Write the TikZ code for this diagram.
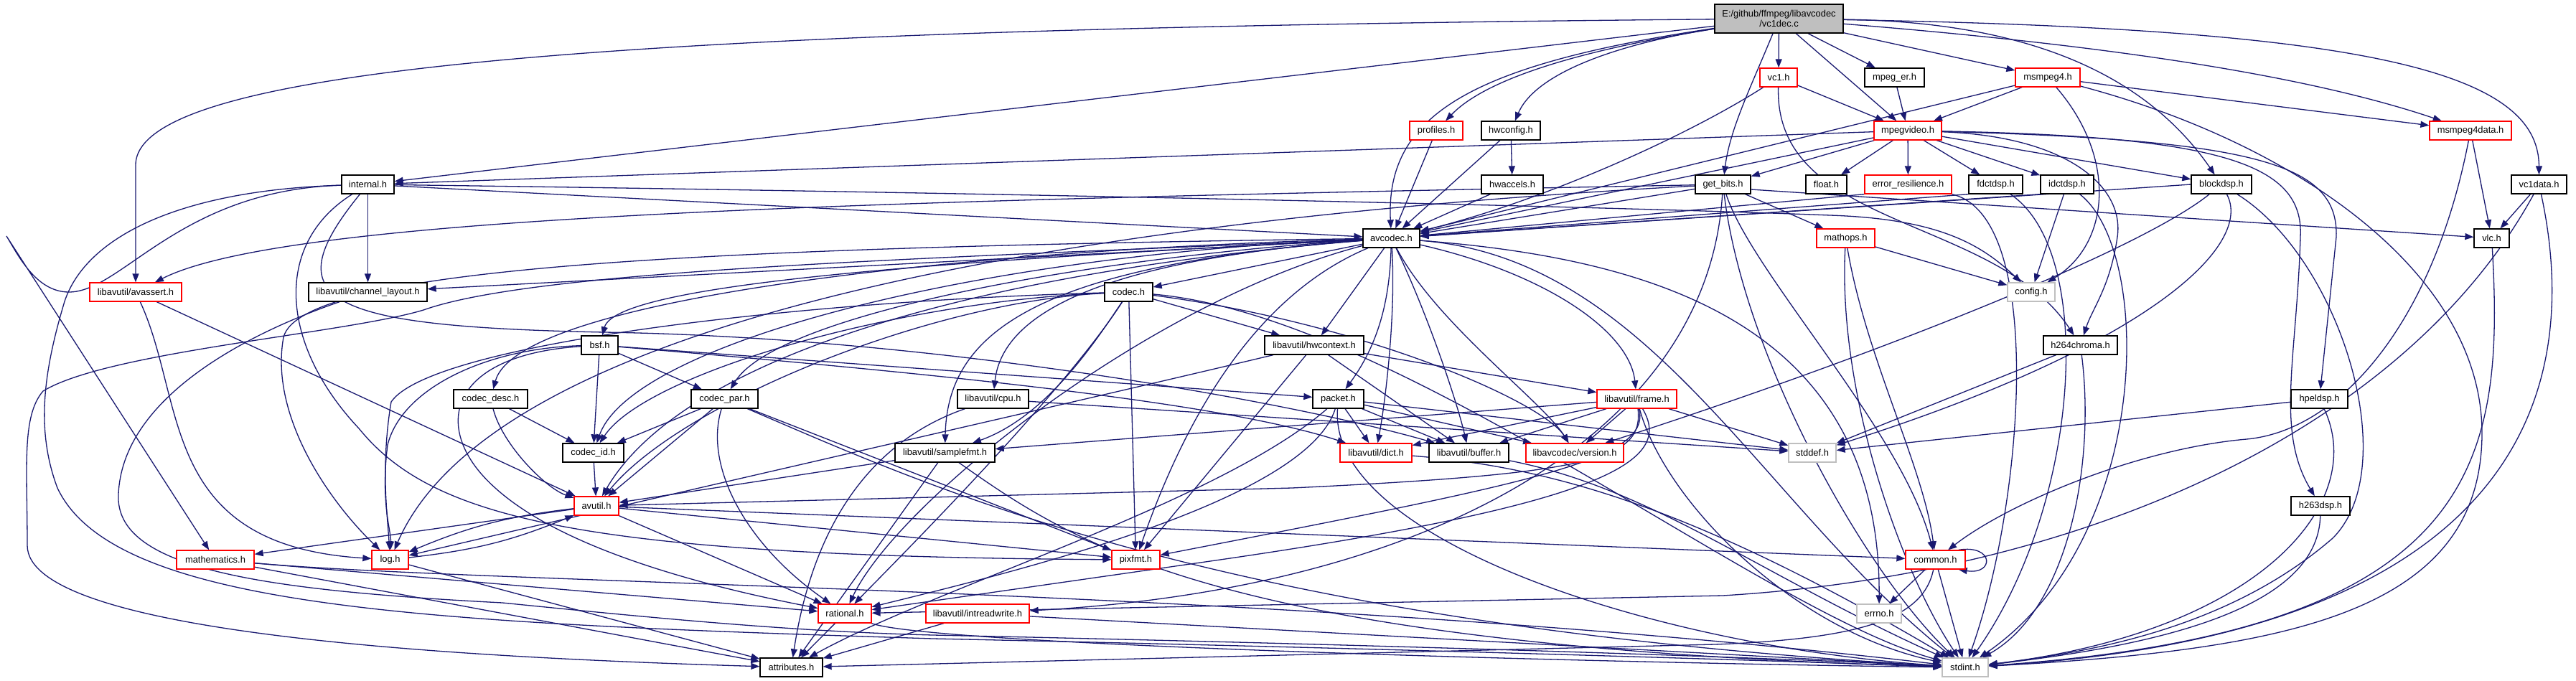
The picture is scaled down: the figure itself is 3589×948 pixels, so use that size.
\documentclass[tikz,border=0pt]{standalone}
\usepackage{fontspec}
\setmainfont{Liberation Sans}
\usetikzlibrary{arrows.meta}
\definecolor{edgecol}{HTML}{191970}
\definecolor{mainfill}{HTML}{BFBFBF}
\definecolor{redb}{HTML}{FF0000}
\definecolor{grayb}{HTML}{BFBFBF}
\pgfdeclarelayer{bg}
\pgfdeclarelayer{edges}
\pgfsetlayers{bg,edges,main}
\tikzset{
  nd/.style={rectangle, line width=1.3pt, fill=white, minimum height=26pt, inner sep=0pt, font=\fontsize{12.9}{14}\selectfont},
  bk/.style={nd, draw=black},
  rd/.style={nd, draw=redb},
  gy/.style={nd, draw=grayb},
  edg/.style={draw=edgecol, line width=1.3pt, -{Triangle[length=12pt,width=9pt]}},
}
\begin{document}
\begin{tikzpicture}[x=1pt,y=-1pt]
\useasboundingbox (0,0) rectangle (3589,948);
\begin{pgfonlayer}{bg}
\fill[white] (0,0) rectangle (3589,948);
\end{pgfonlayer}
% nodes
\node[bk, fill=mainfill, minimum width=179pt, minimum height=40pt, align=center] (vcmain) at (2478.5,26) {E:/github/ffmpeg/libavcodec\\/vc1dec.c};
\node[rd, minimum width=52pt] (vc1) at (2478,108) {vc1.h};
\node[bk, minimum width=83pt] (mpeger) at (2639.5,108) {mpeg\_er.h};
\node[rd, minimum width=90pt] (msmpeg4) at (2853,108) {msmpeg4.h};
\node[rd, minimum width=74pt] (profiles) at (2001,182) {profiles.h};
\node[bk, minimum width=82pt] (hwconfig) at (2105,182) {hwconfig.h};
\node[rd, minimum width=94pt] (mpegvideo) at (2658,182) {mpegvideo.h};
\node[rd, minimum width=114pt] (msmpeg4data) at (3442,182) {msmpeg4data.h};
\node[bk, minimum width=73pt] (internal) at (512.5,257) {internal.h};
\node[bk, minimum width=86pt] (hwaccels) at (2107,257) {hwaccels.h};
\node[bk, minimum width=77pt] (getbits) at (2400.5,257) {get\_bits.h};
\node[bk, minimum width=57pt] (floath) at (2544.5,257) {float.h};
\node[rd, minimum width=121pt] (errres) at (2658.5,257) {error\_resilience.h};
\node[bk, minimum width=75pt] (fdctdsp) at (2780.5,257) {fdctdsp.h};
\node[bk, minimum width=74pt] (idctdsp) at (2880,257) {idctdsp.h};
\node[bk, minimum width=84pt] (blockdsp) at (3095,257) {blockdsp.h};
\node[bk, minimum width=77pt] (vc1data) at (3537.5,257) {vc1data.h};
\node[bk, minimum width=79pt] (avcodec) at (1938.5,332) {avcodec.h};
\node[rd, minimum width=81pt] (mathops) at (2571.5,332) {mathops.h};
\node[bk, minimum width=49pt] (vlc) at (3471.5,332) {vlc.h};
\node[rd, minimum width=128pt] (avassert) at (189,407) {libavutil/avassert.h};
\node[bk, minimum width=165pt] (chlayout) at (512.5,407) {libavutil/channel\_layout.h};
\node[bk, minimum width=67pt] (codec) at (1572.5,407) {codec.h};
\node[gy, minimum width=66pt] (config) at (2830,407) {config.h};
\node[bk, minimum width=51pt] (bsf) at (835.5,481) {bsf.h};
\node[bk, minimum width=138pt] (hwcontext) at (1831,481) {libavutil/hwcontext.h};
\node[bk, minimum width=103pt] (hchroma) at (2898.5,481) {h264chroma.h};
\node[bk, minimum width=103pt] (codecdesc) at (683.5,556) {codec\_desc.h};
\node[bk, minimum width=93pt] (codecpar) at (1009.5,556) {codec\_par.h};
\node[bk, minimum width=99pt] (cpu) at (1383.5,556) {libavutil/cpu.h};
\node[bk, minimum width=71pt] (packet) at (1864.5,556) {packet.h};
\node[rd, minimum width=111pt] (frame) at (2280.5,556) {libavutil/frame.h};
\node[bk, minimum width=79pt] (hpeldsp) at (3231.5,556) {hpeldsp.h};
\node[bk, minimum width=85pt] (codecid) at (826.5,631) {codec\_id.h};
\node[bk, minimum width=139pt] (samplefmt) at (1316.5,631) {libavutil/samplefmt.h};
\node[rd, minimum width=100pt] (dict) at (1917,631) {libavutil/dict.h};
\node[bk, minimum width=111pt] (buffer) at (2046.5,631) {libavutil/buffer.h};
\node[rd, minimum width=136pt] (versionh) at (2194,631) {libavcodec/version.h};
\node[gy, minimum width=66pt] (stddef) at (2525,631) {stddef.h};
\node[rd, minimum width=62pt] (avutil) at (831,705) {avutil.h};
\node[bk, minimum width=82pt] (hdsp) at (3233,705) {h263dsp.h};
\node[rd, minimum width=108pt] (mathematics) at (300,780) {mathematics.h};
\node[rd, minimum width=51pt] (logh) at (543.5,780) {log.h};
\node[rd, minimum width=67pt] (pixfmt) at (1582.5,780) {pixfmt.h};
\node[rd, minimum width=83pt] (common) at (2696.5,780) {common.h};
\node[rd, minimum width=74pt] (rational) at (1177,855) {rational.h};
\node[rd, minimum width=144pt] (intrw) at (1362,855) {libavutil/intreadwrite.h};
\node[gy, minimum width=62pt] (errnoh) at (2618,855) {errno.h};
\node[bk, minimum width=87pt] (attributes) at (1102.5,930) {attributes.h};
\node[gy, minimum width=64pt] (stdint) at (2738,930) {stdint.h};

\begin{pgfonlayer}{edges}
% main file
\draw[edg] (vcmain) .. controls (900,40) and (189,90) .. (189,230) -- (avassert);
\draw[edg] (vcmain) -- (internal);
\draw[edg] (vcmain) .. controls (2050,90) and (1930,160) .. (avcodec);
\draw[edg] (vcmain) .. controls (2200,70) and (2070,110) .. (profiles);
\draw[edg] (vcmain) .. controls (2260,60) and (2140,100) .. (hwconfig);
\draw[edg] (vcmain) -- (vc1);
\draw[edg] (vcmain) .. controls (2440,120) and (2410,180) .. (getbits);
\draw[edg] (vcmain) -- (mpegvideo);
\draw[edg] (vcmain) -- (mpeger);
\draw[edg] (vcmain) -- (msmpeg4);
\draw[edg] (vcmain) .. controls (2800,30) and (2980,90) .. (blockdsp);
\draw[edg] (vcmain) .. controls (2900,60) and (3200,100) .. (msmpeg4data);
\draw[edg] (vcmain) .. controls (3300,40) and (3537,100) .. (vc1data);
% vc1.h
\draw[edg] (vc1) .. controls (2350,190) and (2150,280) .. (avcodec);
\draw[edg] (vc1) -- (mpegvideo);
\draw[edg] (vc1) .. controls (2472,320) and (2780,300) .. (hchroma);
% mpeg_er.h, msmpeg4.h
\draw[edg] (mpeger) -- (mpegvideo);
\draw[edg] (msmpeg4) -- (mpegvideo);
\draw[edg] (msmpeg4) -- (avcodec);
\draw[edg] (msmpeg4) .. controls (2950,220) and (2940,340) .. (config);
\draw[edg] (msmpeg4) -- (msmpeg4data);
\draw[edg] (msmpeg4) .. controls (3200,200) and (3455,380) .. (3458,600) .. controls (3460,850) and (3200,905) .. (stdint);
% profiles, hwconfig, hwaccels
\draw[edg] (profiles) -- (avcodec);
\draw[edg] (hwconfig) -- (hwaccels);
\draw[edg] (hwconfig) -- (avcodec);
\draw[edg] (hwaccels) -- (avcodec);
% mpegvideo.h
\draw[edg] (mpegvideo) -- (internal);
\draw[edg] (mpegvideo) -- (avcodec);
\draw[edg] (mpegvideo) -- (getbits);
\draw[edg] (mpegvideo) -- (floath);
\draw[edg] (mpegvideo) -- (errres);
\draw[edg] (mpegvideo) -- (fdctdsp);
\draw[edg] (mpegvideo) -- (idctdsp);
\draw[edg] (mpegvideo) -- (blockdsp);
\draw[edg] (mpegvideo) .. controls (2880,190) and (2960,260) .. (2950,330) .. controls (2940,400) and (2915,430) .. (hchroma);
\draw[edg] (mpegvideo) .. controls (3150,195) and (3258,230) .. (3255,330) -- (hpeldsp);
\draw[edg] (mpegvideo) .. controls (3100,190) and (3210,230) .. (3205,330) .. controls (3200,500) and (3170,600) .. (hdsp);
% msmpeg4data.h
\draw[edg] (msmpeg4data) -- (vlc);
\draw[edg] (msmpeg4data) .. controls (3390,450) and (3260,600) .. (3130,612) .. controls (2980,625) and (2800,700) .. (common);
% internal.h
\draw[edg] (internal) -- (chlayout);
\draw[edg] (internal) -- (avcodec);
\draw[edg] (internal) .. controls (1500,270) and (2300,290) .. (2550,300) .. controls (2700,305) and (2760,340) .. (config);
\draw[edg] (internal) .. controls (250,265) and (170,407) .. (96,407) .. controls (50,407) and (25,355) .. (9,329) -- (mathematics);
\draw[edg] (internal) .. controls (250,265) and (120,330) .. (90,420) .. controls (60,520) and (50,600) .. (80,680) .. controls (160,850) and (600,868) .. (1300,890) .. controls (2000,905) and (2500,922) .. (stdint);
\draw[edg] (internal) .. controls (380,420) and (450,455) .. (842,463) .. controls (1300,470) and (1800,560) .. (buffer);
\draw[edg] (internal) .. controls (380,340) and (390,480) .. (500,597) .. controls (600,720) and (800,775) .. (pixfmt);
% avcodec.h
\draw[edg] (avcodec) -- (codec);
\draw[edg] (avcodec) .. controls (1400,360) and (860,390) .. (bsf);
\draw[edg] (avcodec) .. controls (1300,350) and (720,420) .. (codecdesc);
\draw[edg] (avcodec) .. controls (1500,360) and (1080,440) .. (codecpar);
\draw[edg] (avcodec) .. controls (1350,355) and (880,480) .. (codecid);
\draw[edg] (avcodec) .. controls (1936,420) and (1920,480) .. (packet);
\draw[edg] (avcodec) .. controls (2000,450) and (2150,560) .. (versionh);
\draw[edg] (avcodec) -- (hwcontext);
\draw[edg] (avcodec) .. controls (2150,380) and (2270,460) .. (frame);
\draw[edg] (avcodec) .. controls (1990,440) and (2030,560) .. (buffer);
\draw[edg] (avcodec) .. controls (1945,440) and (1930,560) .. (dict);
\draw[edg] (avcodec) .. controls (1500,365) and (1395,450) .. (cpu);
\draw[edg] (avcodec) .. controls (1450,370) and (1320,460) .. (samplefmt);
\draw[edg] (avcodec) .. controls (1800,390) and (1680,500) .. (pixfmt);
\draw[edg] (avcodec) .. controls (1600,420) and (1250,700) .. (rational);
\draw[edg] (avcodec) .. controls (1000,345) and (420,370) .. (395,470) .. controls (375,580) and (460,700) .. (logh);
\draw[edg] (avcodec) .. controls (1350,380) and (950,500) .. (avutil);
\draw[edg] (avcodec) .. controls (1300,360) and (750,375) .. (590,432) .. controls (480,465) and (150,490) .. (60,545) .. controls (30,580) and (38,650) .. (38,760) .. controls (38,880) and (600,915) .. (attributes);
\draw[edg] (avcodec) -- (chlayout);
\draw[edg] (avcodec) .. controls (2300,360) and (2620,450) .. (errnoh);
\draw[edg] (avcodec) .. controls (2300,360) and (2450,700) .. (stdint);
% codec.h
\draw[edg] (codec) .. controls (1950,440) and (2450,850) .. (stdint);
\draw[edg] (codec) .. controls (1300,420) and (950,560) .. (avutil);
\draw[edg] (codec) -- (hwcontext);
\draw[edg] (codec) .. controls (1100,420) and (600,480) .. (545,560) .. controls (530,650) and (540,720) .. (logh);
\draw[edg] (codec) -- (pixfmt);
\draw[edg] (codec) .. controls (1480,550) and (1250,780) .. (rational);
\draw[edg] (codec) .. controls (1530,470) and (1460,580) .. (samplefmt);
\draw[edg] (codec) .. controls (1250,420) and (900,520) .. (codecid);
\draw[edg] (codec) .. controls (1900,450) and (2150,560) .. (versionh);
% bsf.h
\draw[edg] (bsf) .. controls (1300,520) and (1700,560) .. (dict);
\draw[edg] (bsf) .. controls (680,485) and (560,540) .. (540,620) .. controls (530,700) and (545,740) .. (logh);
\draw[edg] (bsf) .. controls (620,495) and (600,600) .. (690,680) .. controls (800,780) and (1050,830) .. (rational);
\draw[edg] (bsf) -- (codecid);
\draw[edg] (bsf) -- (codecpar);
\draw[edg] (bsf) -- (packet);
% codec_desc.h, codec_par.h, codec_id.h
\draw[edg] (codecdesc) .. controls (700,620) and (760,680) .. (avutil);
\draw[edg] (codecdesc) -- (codecid);
\draw[edg] (codecpar) -- (codecid);
\draw[edg] (codecpar) -- (avutil);
\draw[edg] (codecpar) .. controls (980,650) and (1040,760) .. (rational);
\draw[edg] (codecpar) -- (pixfmt);
\draw[edg] (codecpar) .. controls (1300,680) and (1700,870) .. (stdint);
\draw[edg] (codecid) -- (avutil);
% packet.h
\draw[edg] (packet) -- (stddef);
\draw[edg] (packet) .. controls (1850,750) and (2300,900) .. (stdint);
\draw[edg] (packet) .. controls (1700,700) and (1300,820) .. (attributes);
\draw[edg] (packet) -- (buffer);
\draw[edg] (packet) -- (dict);
\draw[edg] (packet) .. controls (1820,700) and (1400,800) .. (rational);
\draw[edg] (packet) -- (versionh);
% hwcontext.h
\draw[edg] (hwcontext) -- (buffer);
\draw[edg] (hwcontext) -- (frame);
\draw[edg] (hwcontext) .. controls (1500,560) and (1100,650) .. (logh);
\draw[edg] (hwcontext) -- (pixfmt);
% frame.h
\draw[edg] (frame) -- (stddef);
\draw[edg] (frame) .. controls (2320,700) and (2500,880) .. (stdint);
\draw[edg] (frame) .. controls (2290,640) and (2220,660) .. (1800,680) -- (avutil);
\draw[edg] (frame) -- (buffer);
\draw[edg] (frame) -- (dict);
\draw[edg] (frame) .. controls (2330,640) and (2250,700) .. (1700,780) -- (rational);
\draw[edg] (frame) .. controls (2300,640) and (2150,670) .. (pixfmt);
\draw[edg] (frame) -- (samplefmt);
\draw[edg] (frame) -- (versionh);
% cpu.h, samplefmt.h, dict.h, buffer.h
\draw[edg] (cpu) -- (stddef);
\draw[edg] (cpu) .. controls (1200,620) and (1130,750) .. (attributes);
\draw[edg] (samplefmt) -- (avutil);
\draw[edg] (samplefmt) -- (attributes);
\draw[edg] (samplefmt) .. controls (1500,760) and (1700,900) .. (stdint);
\draw[edg] (dict) .. controls (2150,650) and (2350,700) .. (stdint);
\draw[edg] (buffer) .. controls (2300,680) and (2450,800) .. (stdint);
% avutil.h, log.h
\draw[edg] (avutil) -- (mathematics);
\draw[edg] (avutil) to[bend right=8] (logh);
\draw[edg] (logh) to[bend right=8] (avutil);
\draw[edg] (avutil) -- (rational);
\draw[edg] (avutil) -- (pixfmt);
\draw[edg] (avutil) -- (common);
\draw[edg] (logh) -- (attributes);
% mathematics.h, rational.h, intreadwrite.h
\draw[edg] (mathematics) -- (rational);
\draw[edg] (mathematics) -- (attributes);
\draw[edg] (mathematics) .. controls (700,815) and (1800,820) .. (stdint);
\draw[edg] (rational) -- (attributes);
\draw[edg] (rational) .. controls (1300,900) and (2300,925) .. (stdint);
\draw[edg] (intrw) -- (attributes);
\draw[edg] (intrw) -- (stdint);
% common.h
\draw[edg] (common) -- (errnoh);
\draw[edg] (common) -- (stdint);
\draw[edg] (common) .. controls (2680,860) and (2600,890) .. (2389,898) -- (attributes);
\draw[edg] ([xshift=-10pt]common.north east) .. controls +(50,-8) and +(50,8) .. ([xshift=-10pt]common.south east);
% avassert.h, channel_layout.h
\draw[edg] (avassert) -- (avutil);
\draw[edg] (avassert) .. controls (260,560) and (220,760) .. (logh);
\draw[edg] (chlayout) .. controls (330,470) and (170,560) .. (165,689) .. controls (160,790) and (350,822) .. (700,840) .. controls (900,860) and (1100,880) .. (1300,885) .. controls (2000,900) and (2500,918) .. (stdint);
% get_bits.h
\draw[edg] (getbits) .. controls (1200,280) and (400,300) .. (avassert);
\draw[edg] (getbits) -- (avcodec);
\draw[edg] (getbits) .. controls (1600,300) and (700,420) .. (logh);
\draw[edg] (getbits) -- (mathops);
\draw[edg] ([yshift=-7pt]getbits.east) -- (vlc);
\draw[edg] (getbits) .. controls (2430,500) and (2600,800) .. (stdint);
\draw[edg] (getbits) .. controls (2440,380) and (2650,600) .. (common);
\draw[edg] (getbits) .. controls (2380,600) and (2000,820) .. (intrw);
% mathops.h, vlc.h, vc1data.h
\draw[edg] (mathops) -- (config);
\draw[edg] (mathops) .. controls (2600,500) and (2680,650) .. (common);
\draw[edg] (mathops) .. controls (2560,550) and (2650,800) .. (stdint);
\draw[edg] (vlc) .. controls (3490,650) and (3450,880) .. (stdint);
\draw[edg] (vc1data) -- (vlc);
\draw[edg] (vc1data) .. controls (3590,500) and (3560,880) .. (stdint);
\draw[edg] (vc1data) .. controls (3350,600) and (2900,800) .. (2400,830) -- (rational);
% blockdsp.h
\draw[edg] (blockdsp.west) -- (avcodec);
\draw[edg] (blockdsp) .. controls (3140,340) and (3000,480) .. (stddef);
\draw[edg] (blockdsp) .. controls (2980,350) and (2600,500) .. (versionh);
\draw[edg] (blockdsp) .. controls (3260,360) and (3350,650) .. (3250,750) .. controls (3100,880) and (2900,910) .. (stdint);
% error_resilience.h, fdctdsp.h, idctdsp.h
\draw[edg] (errres.south west) -- (avcodec);
\draw[edg] (errres) .. controls (2850,300) and (2820,700) .. (stdint);
\draw[edg] (fdctdsp.south west) -- (avcodec);
\draw[edg] (fdctdsp) .. controls (2920,350) and (2900,700) .. (stdint);
\draw[edg] (idctdsp.south west) -- (avcodec);
\draw[edg] (idctdsp) -- (config);
\draw[edg] (idctdsp) .. controls (3000,350) and (3000,750) .. (stdint);
% h264chroma.h, hpeldsp.h, h263dsp.h
\draw[edg] (hchroma) -- (stddef);
\draw[edg] (hchroma) .. controls (2920,650) and (2880,850) .. (stdint);
\draw[edg] (hpeldsp) -- (stddef);
\draw[edg] (hpeldsp) .. controls (3300,700) and (3150,880) .. (stdint);
\draw[edg] (hdsp) .. controls (3230,850) and (3000,900) .. (stdint);
\end{pgfonlayer}
\end{tikzpicture}
\end{document}
